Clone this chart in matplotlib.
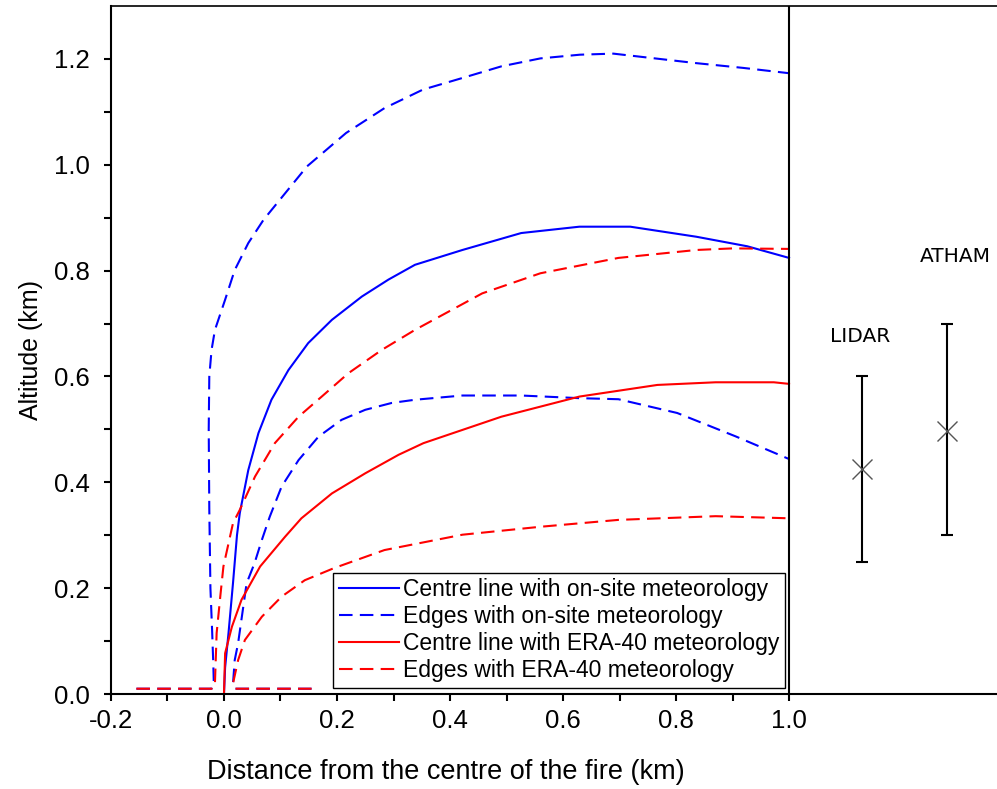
import matplotlib
matplotlib.use("Agg")
from matplotlib import pyplot as plt
from matplotlib.ticker import FixedLocator, FuncFormatter

plt.rcParams["font.family"] = ["Liberation Sans", "DejaVu Sans"]

# centre line, on-site meteorology
onsite_centre_x = [0.0, 0.002, 0.008, 0.016, 0.023, 0.028, 0.043, 0.061, 0.084, 0.114, 0.149,
                   0.191, 0.244, 0.291, 0.338, 0.422, 0.526, 0.629, 0.719, 0.836, 0.926, 1.0]
onsite_centre_y = [0.0, 0.05, 0.115, 0.21, 0.3, 0.342, 0.423, 0.493, 0.556, 0.612, 0.663,
                   0.707, 0.751, 0.783, 0.811, 0.839, 0.871, 0.883, 0.883, 0.864, 0.846, 0.824]

# upper / lower edges, on-site meteorology
onsite_upper_x = [-0.155, -0.022, -0.018, -0.019, -0.021, -0.024, -0.026, -0.027, -0.026, -0.022,
                  -0.016, 0.002, 0.019, 0.043, 0.07, 0.147, 0.216, 0.284, 0.352, 0.422, 0.491,
                  0.56, 0.63, 0.689, 0.836, 0.919, 1.0]
onsite_upper_y = [0.01, 0.01, 0.02, 0.06, 0.12, 0.2, 0.35, 0.5, 0.6, 0.65,
                  0.688, 0.745, 0.801, 0.852, 0.896, 0.997, 1.06, 1.107, 1.142, 1.164, 1.186,
                  1.201, 1.208, 1.21, 1.192, 1.183, 1.173]
onsite_lower_x = [0.155, 0.02, 0.016, 0.019, 0.025, 0.04, 0.054, 0.067, 0.081, 0.102, 0.132,
                  0.167, 0.208, 0.25, 0.297, 0.338, 0.422, 0.526, 0.629, 0.698, 0.802, 0.905, 1.0]
onsite_lower_y = [0.01, 0.01, 0.02, 0.064, 0.096, 0.209, 0.247, 0.291, 0.335, 0.392, 0.442,
                  0.486, 0.518, 0.537, 0.55, 0.556, 0.564, 0.564, 0.559, 0.557, 0.531, 0.487, 0.444]

# centre line, ERA-40 meteorology
era_centre_x = [0.0, 0.002, 0.014, 0.031, 0.064, 0.108, 0.137, 0.191, 0.25, 0.309, 0.353,
                0.491, 0.629, 0.767, 0.87, 0.973, 1.0]
era_centre_y = [0.0, 0.077, 0.127, 0.178, 0.241, 0.297, 0.332, 0.379, 0.417, 0.452, 0.474,
                0.524, 0.562, 0.584, 0.589, 0.589, 0.586]

# upper / lower edges, ERA-40 meteorology
era_upper_x = [-0.155, -0.02, -0.016, -0.013, -0.006, -0.001, 0.016, 0.028, 0.055, 0.09, 0.132,
               0.173, 0.22, 0.279, 0.338, 0.457, 0.56, 0.698, 0.836, 0.9, 1.0]
era_upper_y = [0.01, 0.01, 0.02, 0.115, 0.19, 0.241, 0.323, 0.348, 0.411, 0.474, 0.524,
               0.562, 0.606, 0.65, 0.688, 0.757, 0.795, 0.824, 0.839, 0.842, 0.841]
era_lower_x = [0.155, 0.02, 0.016, 0.025, 0.037, 0.067, 0.102, 0.143, 0.195, 0.284, 0.422,
               0.56, 0.698, 0.87, 1.0]
era_lower_y = [0.01, 0.01, 0.02, 0.064, 0.102, 0.146, 0.184, 0.215, 0.238, 0.272, 0.301,
               0.316, 0.329, 0.336, 0.332]

# observations / model estimates beyond 1 km
obs_names = ["LIDAR", "ATHAM"]
obs_x = [1.129, 1.28]
obs_mid = [0.425, 0.497]
obs_low = [0.25, 0.3]
obs_high = [0.6, 0.7]
obs_label_x = [1.126, 1.294]
obs_label_y = [0.675, 0.826]

x_ticks = [-0.2, 0.0, 0.2, 0.4, 0.6, 0.8, 1.0]
x_minor = [-0.1, 0.1, 0.3, 0.5, 0.7, 0.9]
y_ticks = [0.0, 0.2, 0.4, 0.6, 0.8, 1.0, 1.2]
y_minor = [0.1, 0.3, 0.5, 0.7, 0.9, 1.1]

fig = plt.figure(figsize=(9.97, 7.89), dpi=100)
ax = fig.add_axes([0.1113, 0.1204, 0.8887, 0.872])

dash = (6.5, 3.5)
ax.plot(onsite_centre_x, onsite_centre_y, color="#0000ff", lw=1.5,
        label="Centre line with on-site meteorology")
ax.plot(onsite_upper_x, onsite_upper_y, color="#0000ff", lw=1.5, dashes=dash,
        label="Edges with on-site meteorology")
ax.plot(onsite_lower_x, onsite_lower_y, color="#0000ff", lw=1.5, dashes=dash)
ax.plot(era_centre_x, era_centre_y, color="#ff0000", lw=1.5,
        label="Centre line with ERA-40 meteorology")
ax.plot(era_upper_x, era_upper_y, color="#ff0000", lw=1.5, dashes=dash,
        label="Edges with ERA-40 meteorology")
ax.plot(era_lower_x, era_lower_y, color="#ff0000", lw=1.5, dashes=dash)

ax.axvline(1.0, color="black", lw=1.5)

for i in range(len(obs_names)):
    ym = obs_mid[i]
    ax.errorbar([obs_x[i]], [ym], yerr=[[ym - obs_low[i]], [obs_high[i] - ym]], fmt="none",
                ecolor="black", elinewidth=1.5, capsize=4, capthick=1.5)
    ax.plot([obs_x[i]], [ym], marker="x", color="#555555", markersize=14, mew=1.0, ls="none")
    ax.text(obs_label_x[i], obs_label_y[i], obs_names[i], family="DejaVu Sans", fontsize=14.5,
            ha="center", va="center")

ax.set_xlim(-0.2, 1.368)
ax.set_ylim(0, 1.3)
ax.xaxis.set_major_locator(FixedLocator(x_ticks))
ax.xaxis.set_minor_locator(FixedLocator(x_minor))
ax.yaxis.set_major_locator(FixedLocator(y_ticks))
ax.yaxis.set_minor_locator(FixedLocator(y_minor))
ax.xaxis.set_major_formatter(FuncFormatter(lambda v, p: "%.1f" % v if v > -0.05 else "-%.1f" % abs(v)))
ax.yaxis.set_major_formatter(FuncFormatter(lambda v, p: "%.1f" % v))
ax.tick_params(which="both", direction="out", length=5, width=1.5, labelsize=18.5)
ax.tick_params(axis="x", pad=6)
ax.tick_params(axis="y", pad=10)

ax.spines["right"].set_visible(False)
ax.spines["left"].set_linewidth(1.5)
ax.spines["bottom"].set_linewidth(1.5)
ax.spines["top"].set_linewidth(1.2)

ax.set_xlabel("Distance from the centre of the fire (km)", fontsize=19.5)
ax.xaxis.set_label_coords(0.378, -0.095)
ax.set_ylabel("Altitude (km)", fontsize=18, labelpad=8)

leg = ax.legend(loc="lower right", bbox_to_anchor=(0.761, 0.009), fontsize=16.5,
                frameon=True, fancybox=False, framealpha=1, edgecolor="black",
                handlelength=2.6, handletextpad=0.2, labelspacing=0.17, borderpad=0.25,
                borderaxespad=0)
leg.get_frame().set_linewidth(1.0)

plt.savefig("out.png", dpi=100)
